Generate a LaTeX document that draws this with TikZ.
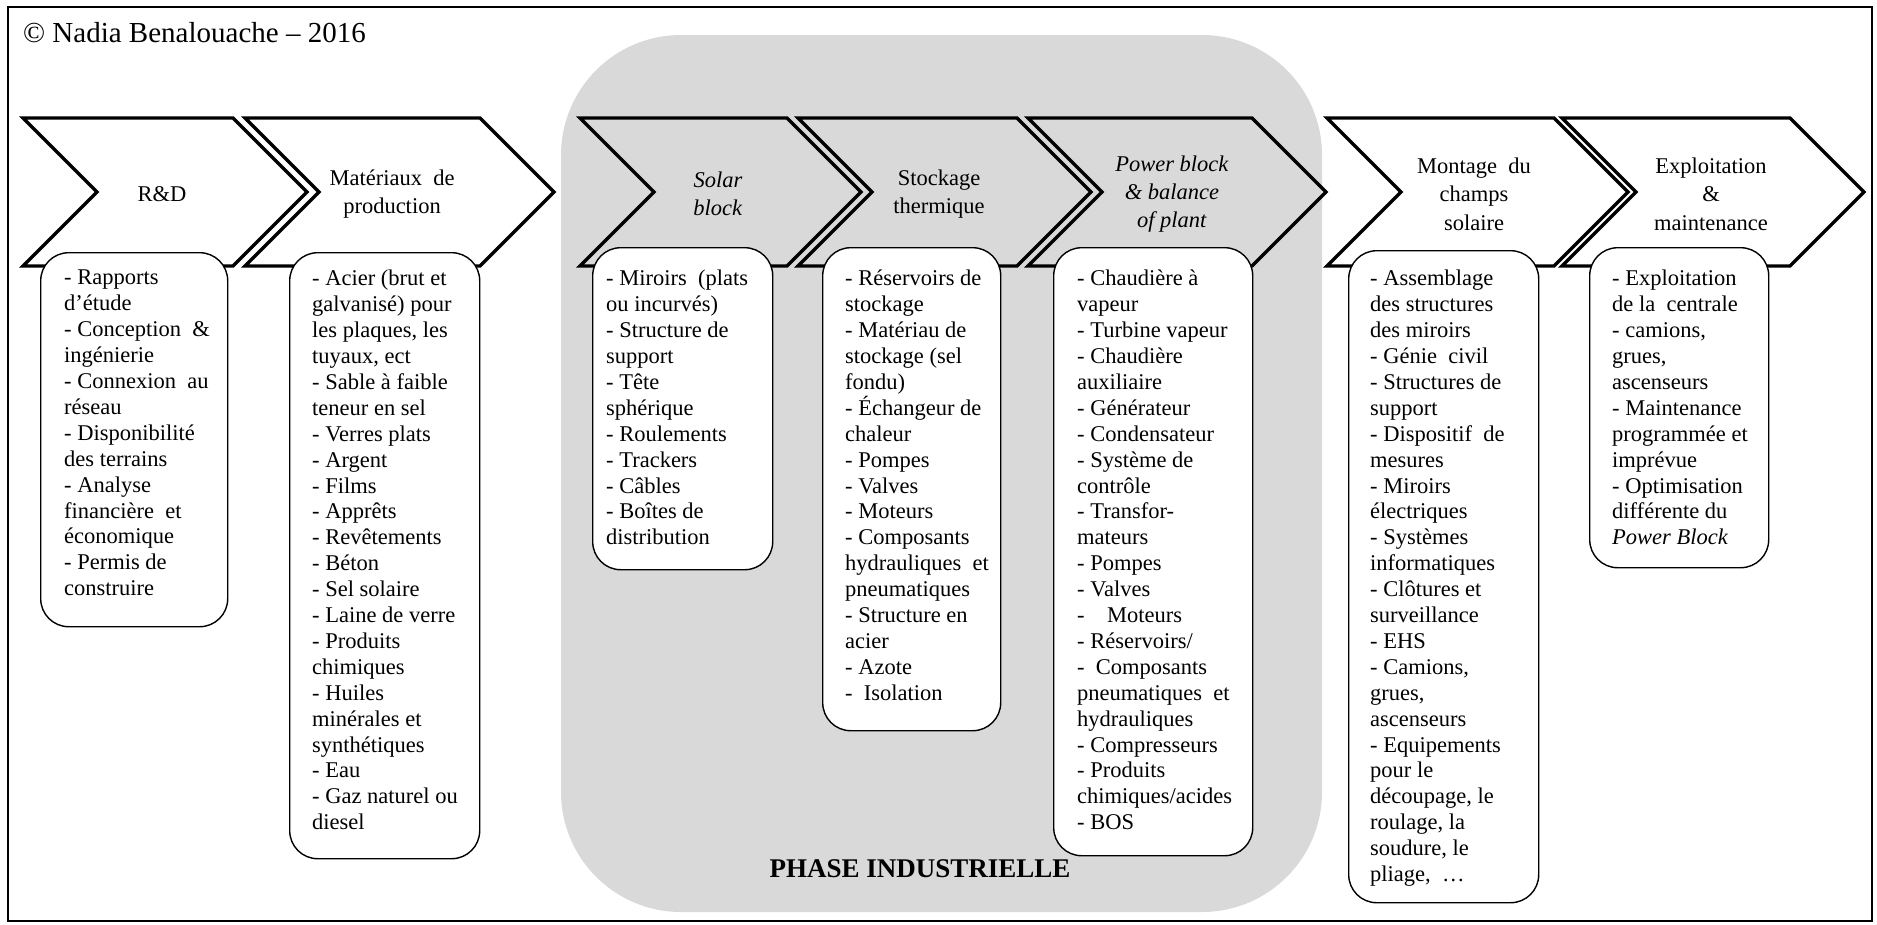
\documentclass[tikz,border=0pt]{standalone}
\usepackage{fontspec}
\setmainfont{Liberation Serif}
\definecolor{phasegray}{RGB}{217,217,217}
\newcommand\chevronpath[2]{%
  \draw[chev] (#1,118) -- (#2,118) -- ({#2+74},192) -- (#2,266) -- (#1,266) -- ({#1+74},192) -- cycle;}
\begin{document}
\begin{tikzpicture}[x=1pt,y=-1pt,
  chev/.style={draw=black,line width=3.3pt,line join=miter},
  box/.style={draw=black,fill=white,line width=1.4pt,rounded corners=28pt,anchor=north west,inner sep=0pt},
  body/.style={font=\fontsize{22.5}{25.9}\selectfont,align=left,anchor=north west,inner sep=0pt},
  head/.style={font=\fontsize{22.5}{28.3}\selectfont,align=center,inner sep=0pt}]
\useasboundingbox (0,0) rectangle (1877,924);
% frame
\draw[line width=2pt] (8,7) rectangle (1872,921);
\node[font=\fontsize{29}{33}\selectfont,anchor=base west,inner sep=0pt] (copy) at (23,42) {© Nadia Benalouache – 2016};
% industrial phase background
\fill[phasegray,rounded corners=120pt] (561,35) rectangle (1322,912);
\node[font=\bfseries\fontsize{27}{30}\selectfont,anchor=base,inner sep=0pt] (phase) at (920,877) {PHASE INDUSTRIELLE};
% chevrons
\chevronpath{23}{233}
\chevronpath{245}{480}
\chevronpath{580}{787}
\chevronpath{798}{1017}
\chevronpath{1028}{1252}
\chevronpath{1327}{1554}
\chevronpath{1562}{1790}
% headers
\node[head] (h1) at (162,194) {R\&D};
\node[head] (h2) at (392,194) {Matériaux\ \ de\\production};
\node[head] (h3) at (718,194) {\textit{Solar}\\\textit{block}};
\node[head] (h4) at (939,194) {Stockage\\thermique};
\node[head] (h5) at (1172,194) {\textit{Power block}\\\textit{\& balance}\\\textit{of plant}};
\node[head] (h6) at (1474,194) {Montage\ \ du\\champs\\solaire};
\node[head] (h7) at (1711,194) {Exploitation\\\&\\maintenance};
% boxes
\node[box,minimum width=187pt,minimum height=374pt] (b1) at (40,252) {};
\node[box,minimum width=190pt,minimum height=606pt] (b2) at (289,252) {};
\node[box,minimum width=180pt,minimum height=322pt] (b3) at (592,247) {};
\node[box,minimum width=178pt,minimum height=483pt] (b4) at (822,247) {};
\node[box,minimum width=199pt,minimum height=608pt] (b5) at (1053,247) {};
\node[box,minimum width=190pt,minimum height=652pt] (b6) at (1348,250) {};
\node[box,minimum width=179pt,minimum height=320pt] (b7) at (1589,247) {};
% box texts
\node[body] (t1) at (64,270) {- Rapports\\d’étude\\- Conception\ \ \&\\ingénierie\\- Connexion\ \ au\\réseau\\- Disponibilité\\des terrains\\- Analyse\\financière\ \ et\\économique\\- Permis de\\construire};
\node[body] (t2) at (312,270) {- Acier (brut et\\galvanisé) pour\\les plaques, les\\tuyaux, ect\\- Sable à faible\\teneur en sel\\- Verres plats\\- Argent\\- Films\\- Apprêts\\- Revêtements\\- Béton\\- Sel solaire\\- Laine de verre\\- Produits\\chimiques\\- Huiles\\minérales et\\synthétiques\\- Eau\\- Gaz naturel ou\\diesel};
\node[body] (t3) at (606,270) {- Miroirs\ \ (plats\\ou incurvés)\\- Structure de\\support\\- Tête\\sphérique\\- Roulements\\- Trackers\\- Câbles\\- Boîtes de\\distribution};
\node[body] (t4) at (845,270) {- Réservoirs de\\stockage\\- Matériau de\\stockage (sel\\fondu)\\- Échangeur de\\chaleur\\- Pompes\\- Valves\\- Moteurs\\- Composants\\hydrauliques\ \ et\\pneumatiques\\- Structure en\\acier\\- Azote\\-\ \ Isolation};
\node[body] (t5) at (1077,270) {- Chaudière à\\vapeur\\- Turbine vapeur\\- Chaudière\\auxiliaire\\- Générateur\\- Condensateur\\- Système de\\contrôle\\- Transfor-\\mateurs\\- Pompes\\- Valves\\-\ \ \ \ Moteurs\\- Réservoirs/\\-\ \ Composants\\pneumatiques\ \ et\\hydrauliques\\- Compresseurs\\- Produits\\chimiques/acides\\- BOS};
\node[body] (t6) at (1370,270) {- Assemblage\\des structures\\des miroirs\\- Génie\ \ civil\\- Structures de\\support\\- Dispositif\ \ de\\mesures\\- Miroirs\\électriques\\- Systèmes\\informatiques\\- Clôtures et\\surveillance\\- EHS\\- Camions,\\grues,\\ascenseurs\\- Equipements\\pour le\\découpage, le\\roulage, la\\soudure, le\\pliage,\ \ …};
\node[body] (t7) at (1612,270) {- Exploitation\\de la\ \ centrale\\- camions,\\grues,\\ascenseurs\\- Maintenance\\programmée et\\imprévue\\- Optimisation\\différente du\\\textit{Power Block}};
\end{tikzpicture}
\end{document}
